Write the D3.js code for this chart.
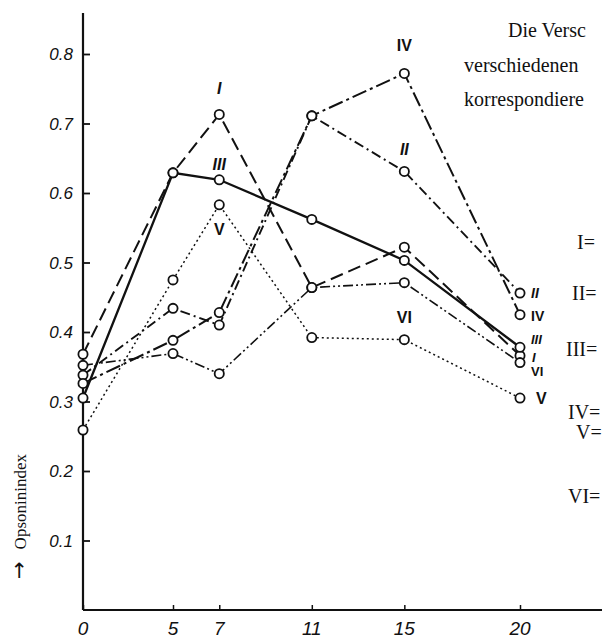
<!DOCTYPE html>
<html><head><meta charset="utf-8">
<script src="https://cdn.jsdelivr.net/npm/d3@7"></script>
<style>
body{margin:0;background:#fff;}
svg{display:block;}
</style></head>
<body>
<script>
// ---- data ----
const days = [0, 5, 7, 11, 15, 20];
const seriesNames = ["I", "II", "III", "IV", "V", "VI"];
const valuesI   = [0.368, 0.629, 0.713, 0.464, 0.522, 0.366];
const valuesII  = [0.338, 0.434, 0.410, 0.711, 0.631, 0.456];
const valuesIII = [0.305, 0.629, 0.619, 0.562, 0.503, 0.378];
const valuesIV  = [0.326, 0.388, 0.428, 0.711, 0.772, 0.425];
const valuesV   = [0.259, 0.475, 0.583, 0.392, 0.389, 0.305];
const valuesVI  = [0.352, 0.369, 0.340, 0.464, 0.471, 0.356];
const yTicks = [0.1, 0.2, 0.3, 0.4, 0.5, 0.6, 0.7, 0.8];
const xTickLabels = ["0", "5", "7", "11", "15", "20"];
const yTitle = "Opsoninindex";
const sideText = ["Die Versc", "verschiedenen", "korrespondiere"];
const sideKeys = ["I=", "II=", "III=", "IV=", "V=", "VI="];

const allValues = [valuesI, valuesII, valuesIII, valuesIV, valuesV, valuesVI];

const W = 602, H = 639;
const svg = d3.select("body").append("svg").attr("width", W).attr("height", H);

const x = d3.scaleLinear().domain([0, 5, 20]).range([83, 173, 520]);
const y = d3.scaleLinear().domain([0, 0.8]).range([610, 54]);

// axes
svg.append("line").attr("x1", 83).attr("x2", 83).attr("y1", 13).attr("y2", y(0))
  .attr("stroke", "#111").attr("stroke-width", 2.2);
svg.append("line").attr("x1", 83).attr("x2", 602).attr("y1", y(0)).attr("y2", y(0))
  .attr("stroke", "#111").attr("stroke-width", 2);

const yAxis = d3.axisRight(y).tickValues(yTicks).tickSize(7).tickFormat("");
svg.append("g").attr("transform", "translate(83,0)").call(yAxis)
  .call(g => g.select(".domain").remove())
  .call(g => g.selectAll("line").attr("stroke", "#111").attr("stroke-width", 1.8));
svg.append("g").selectAll("text").data(yTicks).join("text")
  .attr("x", 73).attr("y", d => y(d) + 6).attr("text-anchor", "end")
  .attr("font-family", "Liberation Sans, Arial, sans-serif").attr("font-style", "italic")
  .attr("font-size", 17).attr("fill", "#111").text(d => d3.format(".1f")(d));

const xAxis = d3.axisTop(x).tickValues(days).tickSize(5).tickFormat("");
svg.append("g").attr("transform", `translate(0,${y(0)})`).call(xAxis)
  .call(g => g.select(".domain").remove())
  .call(g => g.selectAll("line").attr("stroke", "#111").attr("stroke-width", 1.5));
svg.append("g").selectAll("text").data(days).join("text")
  .attr("x", (d, i) => x(d)).attr("y", 635).attr("text-anchor", "middle")
  .attr("font-family", "Liberation Sans, Arial, sans-serif").attr("font-style", "italic")
  .attr("font-size", 19).attr("fill", "#111").text((d, i) => xTickLabels[i]);

// y title with arrow
const yt = svg.append("text").attr("transform", "translate(26,579) rotate(-90)")
  .attr("text-anchor", "start").attr("fill", "#111");
yt.append("tspan").attr("font-family", "DejaVu Sans, sans-serif").attr("font-size", 21).text("→");
yt.append("tspan").attr("dx", 12).attr("font-family", "Liberation Serif, serif")
  .attr("font-size", 17).text(yTitle);

// series
const dashes = ["13,6", "10,4,2,4", null, "15,4,3,4", "2,3", "10,3,2,3,2,3"];
const widths = [2, 1.9, 2.3, 2, 1.5, 1.6];
const line = d3.line().x((d, i) => x(days[i])).y(d => y(d));
allValues.forEach((vals, k) => {
  svg.append("path").datum(vals).attr("d", line).attr("fill", "none")
    .attr("stroke", "#111").attr("stroke-width", widths[k])
    .attr("stroke-dasharray", dashes[k]);
});
allValues.forEach((vals) => {
  svg.append("g").selectAll("circle").data(vals).join("circle")
    .attr("cx", (d, i) => x(days[i])).attr("cy", d => y(d)).attr("r", 4.6)
    .attr("fill", "#fff").attr("stroke", "#111").attr("stroke-width", 1.8);
});

// in-chart labels: [seriesIndex, dayIndex, dx, dy, italic, size]
const labelSpecs = [
  [0, 2, 0, -20, true, 16], [2, 2, 0, -10, true, 16], [4, 2, 0, 30, false, 16],
  [3, 4, 0, -22, false, 16], [1, 4, 0, -16, true, 16], [5, 4, 0, 40, false, 16],
  [1, 5, 11, 5, true, 14], [3, 5, 11, 6, false, 14], [2, 5, 11, -3, true, 13],
  [0, 5, 12, 6, true, 13], [5, 5, 11, 13, false, 13], [4, 5, 16, 6, false, 16]
];
svg.append("g").selectAll("text").data(labelSpecs).join("text")
  .attr("x", d => x(days[d[1]]) + d[2])
  .attr("y", d => y(allValues[d[0]][d[1]]) + d[3])
  .attr("text-anchor", d => d[2] ? "start" : "middle")
  .attr("font-family", "Liberation Sans Narrow, Liberation Sans, Arial, sans-serif")
  .attr("font-weight", "bold").attr("font-style", d => d[4] ? "italic" : "normal")
  .attr("font-size", d => d[5]).attr("fill", "#111")
  .text(d => seriesNames[d[0]]);

// side text (cut off page text)
const sidePos = [[508, 37], [464, 72], [464, 106]];
svg.append("g").selectAll("text").data(sideText).join("text")
  .attr("x", (d, i) => sidePos[i][0]).attr("y", (d, i) => sidePos[i][1])
  .attr("font-family", "Liberation Serif, serif").attr("font-size", 20)
  .attr("fill", "#111").text(d => d);
const keyPos = [[577, 249], [572, 300], [566, 356], [568, 419], [576, 439], [568, 503]];
svg.append("g").selectAll("text").data(sideKeys).join("text")
  .attr("x", (d, i) => keyPos[i][0]).attr("y", (d, i) => keyPos[i][1])
  .attr("font-family", "Liberation Serif, serif").attr("font-size", 20)
  .attr("fill", "#111").text(d => d);
</script>
</body></html>
